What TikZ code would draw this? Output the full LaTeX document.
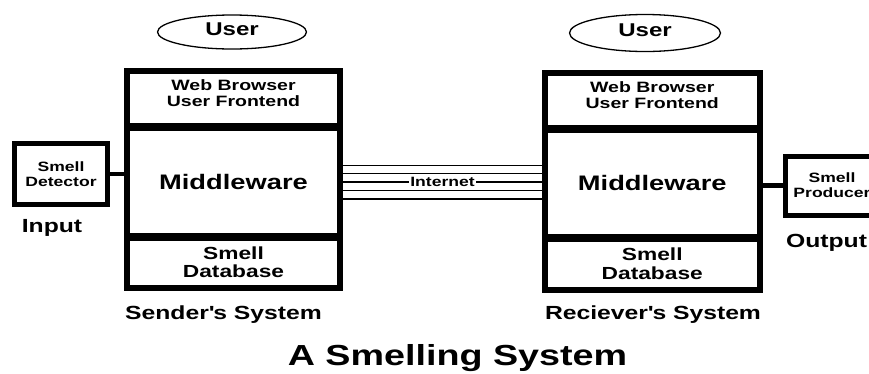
\documentclass[tikz,border=0pt]{standalone}
\usepackage{fontspec}
\setmainfont{Liberation Sans}[FakeStretch=1.3]
\usepackage{tikz}
\usetikzlibrary{calc}
\usetikzlibrary{positioning}
\usetikzlibrary{shapes.geometric}
\tikzset{>=latex}
\tikzstyle{sect} = [rectangle, draw=black, line width=6pt, outer sep=0pt, inner sep=0pt, align=center]
\tikzstyle{dev} = [rectangle, draw=black, line width=5pt, outer sep=0pt, inner sep=0pt, align=center, minimum width=93pt, minimum height=61pt, font=\bfseries\fontsize{13.5}{15}\selectfont]
\tikzstyle{user} = [ellipse, draw=black, line width=1.3pt, inner sep=0pt, text depth=6pt, font=\bfseries\fontsize{18.5}{20}\selectfont]
\tikzstyle{caption} = [anchor=base, inner sep=0pt, font=\bfseries\fontsize{19}{21}\selectfont]
\tikzstyle{link} = [-, draw=black, line width=4.5pt]
\tikzstyle{wire} = [-, draw=black, line width=1.4pt]
\tikzstyle{split} = [-, draw=black, line width=8pt]

\begin{document}
\begin{tikzpicture}[x=1pt, y=-1pt]
\useasboundingbox (0,0) rectangle (869,373);
\clip (0,0) rectangle (869,373);

\node [user, minimum width=149pt, minimum height=34pt] (userS) at (232,32) {User};
\node [user, minimum width=151pt, minimum height=37pt] (userR) at (645,33) {User};

\node [sect, minimum width=213pt, minimum height=56pt, text depth=11pt, font=\bfseries\fontsize{15}{16}\selectfont] (webS) at (233.5,99) {Web Browser\\User Frontend};
\node [sect, minimum width=213pt, minimum height=110pt, font=\bfseries\fontsize{21}{23}\selectfont] (midS) [below=0pt of webS] {Middleware};
\node [sect, minimum width=213pt, minimum height=50.5pt, font=\bfseries\fontsize{17.5}{18.5}\selectfont] (dbS) [below=0pt of midS] {Smell\\Database};
\draw [split] (webS.south west) -- (webS.south east);
\draw [split] (dbS.north west) -- (dbS.north east);

\node [sect, minimum width=214.5pt, minimum height=56pt, text depth=11pt, font=\bfseries\fontsize{15}{16}\selectfont] (webR) at (652.25,100.5) {Web Browser\\User Frontend};
\node [sect, minimum width=214.5pt, minimum height=109.5pt, font=\bfseries\fontsize{21}{23}\selectfont] (midR) [below=0pt of webR] {Middleware};
\node [sect, minimum width=214.5pt, minimum height=51.5pt, font=\bfseries\fontsize{17.5}{18.5}\selectfont] (dbR) [below=0pt of midR] {Smell\\Database};
\draw [split] (webR.south west) -- (webR.south east);
\draw [split] (dbR.north west) -- (dbR.north east);

\node [dev] (det) at (61,174) {Smell\\Detector};
\node [dev, minimum height=59pt] (prod) at (832,185.5) {Smell\\Producer};
\draw [link] (det.east) -- (det.east -| midS.west);
\draw [link] (prod.west) -- (prod.west -| midR.east);

\foreach \dy [count=\i] in {-16.5,-8.5,8.5,17} {
  \coordinate (w\i) at ($(midS.east)+(0,\dy)$);
  \draw [wire] (w\i) -- (w\i -| midR.west);
}
\draw [wire] (midS.east) -- node [fill=white, inner sep=1pt, font=\bfseries\fontsize{13.5}{15}\selectfont] (net) {Internet} (midS.east -| midR.west);

\node [caption] (inS) at (52,232) {Input};
\node [caption] (outR) at (826.5,247) {Output};
\node [caption] (sysS) at (223.5,319) {Sender\textquotesingle s System};
\node [caption] (sysR) at (653,319) {Reciever\textquotesingle s System};
\node [caption, font=\bfseries\fontsize{29}{32}\selectfont] (title) at (457.5,365) {A Smelling System};
\end{tikzpicture}
\end{document}
